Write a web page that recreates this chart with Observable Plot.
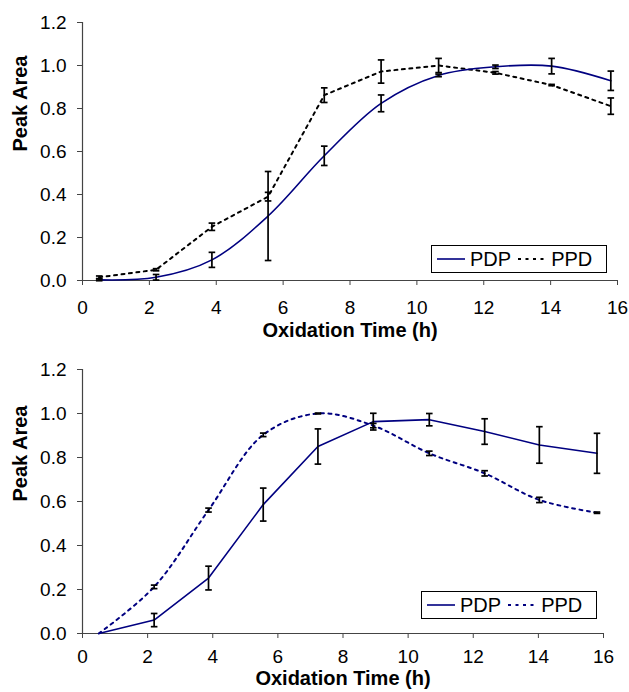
<!DOCTYPE html>
<html>
<head>
<meta charset="utf-8">
<script src="https://cdn.jsdelivr.net/npm/d3@7"></script>
<script src="https://cdn.jsdelivr.net/npm/@observablehq/plot@0.6"></script>
<style>
  html, body { margin: 0; padding: 0; background: #fff; }
  #wrap { position: relative; width: 629px; height: 692px; font-family: "Liberation Sans", Arial, sans-serif; }
  .panel { position: absolute; left: 0; }
  .legend { position: absolute; box-sizing: border-box; border: 1px solid #000; background: #fff;
            display: flex; align-items: center; font-size: 20px; color: #000; padding-left: 4px; }
  .legend svg { display: block; }
  .legend span { margin-right: 6px; margin-left: 4px; line-height: 1; }
</style>
</head>
<body>
<div id="wrap"></div>
<script>
// ---- data ----
const times = [0.5, 2.2, 3.87, 5.55, 7.23, 8.93, 10.65, 12.35, 14.03, 15.8];

const topPDP    = [0.003, 0.015, 0.096, 0.30, 0.58, 0.824, 0.954, 0.994, 0.997, 0.929];
const topPDPErr = [0.004, 0.013, 0.035, 0.207, 0.045, 0.039, 0.006, 0.008, 0.036, 0.045];
const topPPD    = [0.015, 0.05, 0.25, 0.39, 0.862, 0.972, 1.0, 0.966, 0.909, 0.811];
const topPPDErr = [0.006, 0.005, 0.017, 0.02, 0.034, 0.054, 0.033, 0.006, 0.003, 0.038];

const botPDP    = [0, 0.061, 0.252, 0.586, 0.85, 0.963, 0.972, 0.918, 0.857, 0.819];
const botPDPErr = [0, 0.03, 0.054, 0.075, 0.08, 0.038, 0.028, 0.058, 0.083, 0.091];
const botPPD    = [0, 0.212, 0.561, 0.903, 1.0, 0.945, 0.819, 0.728, 0.607, 0.549];
const botPPDErr = [0, 0.008, 0.009, 0.008, 0.002, 0.01, 0.01, 0.012, 0.012, 0.003];

const yTicks = [0, 0.2, 0.4, 0.6, 0.8, 1.0, 1.2];
const xTicks = [0, 2, 4, 6, 8, 10, 12, 14, 16];
const seriesNames = ["PDP", "PPD"];
const xTitle = "Oxidation Time (h)";
const yTitle = "Peak Area";

const NAVY = "#000080";
const DOTS = "3,4.5";

function rows(vals, errs) {
  return times.map((t, i) => ({t, v: vals[i], e: errs[i]}));
}

const capSymbol = {
  draw(ctx, size) {
    const w = Math.sqrt(size / Math.PI);
    ctx.moveTo(-w, 0);
    ctx.lineTo(w, 0);
  }
};

function errorMarks(data) {
  const d = data.filter(r => r.e > 0);
  return [
    Plot.link(d, {x1: "t", x2: "t", y1: r => r.v - r.e, y2: r => r.v + r.e, stroke: "#000", strokeWidth: 1.7}),
    Plot.dot(d, {x: "t", y: r => r.v - r.e, symbol: capSymbol, r: 3.3, fill: "none", stroke: "#000", strokeWidth: 1.7}),
    Plot.dot(d, {x: "t", y: r => r.v + r.e, symbol: capSymbol, r: 3.3, fill: "none", stroke: "#000", strokeWidth: 1.7})
  ];
}

function panel(opts) {
  const pdp = rows(opts.pdp, opts.pdpErr);
  const ppd = rows(opts.ppd, opts.ppdErr);
  return Plot.plot({
    width: 629,
    height: opts.height,
    marginTop: opts.mt,
    marginBottom: opts.mb,
    marginLeft: 82,
    marginRight: opts.mr,
    style: {fontFamily: "Liberation Sans, Arial, sans-serif", fontSize: "19px", color: "#000", background: "#fff", overflow: "visible"},
    x: {domain: [0, 16]},
    y: {domain: [0, 1.2]},
    marks: [
      Plot.axisY({ticks: yTicks, tickFormat: d3.format(".1f"), tickSize: 5, tickPadding: 11, label: null, stroke: "#444", fontSize: 19}),
      Plot.axisX({ticks: xTicks, tickFormat: d3.format("d"), tickSize: 5, tickPadding: opts.xpad, label: null, stroke: "#444", fontSize: 19}),
      Plot.ruleX([0], {stroke: "#444", strokeWidth: 1.2}),
      Plot.ruleY([0], {stroke: "#444", strokeWidth: 1.2}),
      Plot.line(ppd, {x: "t", y: "v", stroke: opts.ppdColor, strokeWidth: 2, strokeDasharray: DOTS, curve: opts.ppdCurve}),
      Plot.line(pdp, {x: "t", y: "v", stroke: NAVY, strokeWidth: 1.6, curve: opts.pdpCurve}),
      ...errorMarks(pdp),
      ...errorMarks(ppd),
      Plot.text([xTitle], {frameAnchor: "bottom", dy: opts.xTitleDy, fontWeight: "bold", fontSize: 20, fill: "#000"}),
      Plot.text([yTitle], {frameAnchor: "left", dx: -62, rotate: -90, fontWeight: "bold", fontSize: 20, fill: "#000"})
    ]
  });
}

function legend(left, top, ppdColor) {
  const div = document.createElement("div");
  div.className = "legend";
  div.style.left = left + "px";
  div.style.top = top + "px";
  div.style.width = "176px";
  div.style.height = "28px";
  const sw = (dash, color, width) => {
    const s = d3.create("svg").attr("width", 30).attr("height", 26);
    s.append("line").attr("x1", 1).attr("x2", 29).attr("y1", 13).attr("y2", 13)
      .attr("stroke", color).attr("stroke-width", width).attr("stroke-dasharray", dash);
    return s.node();
  };
  div.appendChild(sw(null, NAVY, 1.6));
  const t1 = document.createElement("span"); t1.textContent = seriesNames[0]; div.appendChild(t1);
  div.appendChild(sw(DOTS, ppdColor, 2));
  const t2 = document.createElement("span"); t2.textContent = seriesNames[1]; div.appendChild(t2);
  return div;
}

const wrap = document.getElementById("wrap");

const p1 = panel({height: 345, mt: 22, mb: 65, mr: 12, xpad: 15, xTitleDy: 56,
  pdp: topPDP, pdpErr: topPDPErr, ppd: topPPD, ppdErr: topPPDErr, ppdColor: "#000",
  pdpCurve: "catmull-rom", ppdCurve: "linear"});
p1.classList.add("panel"); p1.style.top = "0px";
wrap.appendChild(p1);

const p2 = panel({height: 347, mt: 24, mb: 59, mr: 26, xpad: 11, xTitleDy: 51,
  pdp: botPDP, pdpErr: botPDPErr, ppd: botPPD, ppdErr: botPPDErr, ppdColor: NAVY,
  pdpCurve: "linear", ppdCurve: "catmull-rom"});
p2.classList.add("panel"); p2.style.top = "345px";
wrap.appendChild(p2);

wrap.appendChild(legend(431, 245, "#000"));
wrap.appendChild(legend(421, 591, NAVY));
</script>
</body>
</html>
